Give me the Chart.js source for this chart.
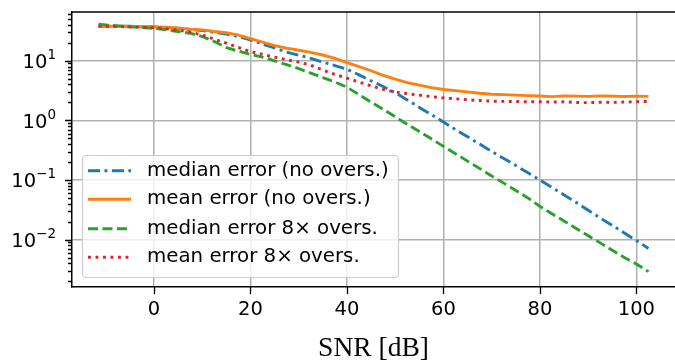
<!DOCTYPE html>
<html>
<head>
<meta charset="utf-8">
<script src="https://cdn.jsdelivr.net/npm/chart.js@4/dist/chart.umd.min.js"></script>
<style>
  html, body { margin: 0; padding: 0; background: #fff; }
  #wrap { width: 675px; height: 360px; }
</style>
</head>
<body>
<div id="wrap"><canvas id="errChart" width="675" height="360"></canvas></div>
<script>
// SNR values (dB)
const snr = [-11.5, -10, -7.5, -5, -2.5, 0, 2.5, 5, 7.5, 10, 12.5, 15, 17.5, 20, 22.5, 25, 27.5, 30, 32.5, 35,
  37.5, 40, 42.5, 45, 47.5, 50, 52.5, 55, 57.5, 60, 62.5, 65, 67.5, 70, 72.5, 75, 77.5, 80, 82.5, 85,
  87.5, 90, 92.5, 95, 97.5, 100, 102.5];

const medianNoOvers = [38, 38, 38, 38, 37.5, 37, 36, 35, 33.5, 32, 30, 28, 25.5, 22.5, 19, 16.5, 14, 12.4, 11, 9.5,
  8.3, 7.2, 5.8, 4.6, 3.7, 2.9, 2.2, 1.65, 1.25, 0.94, 0.7, 0.53, 0.4, 0.3, 0.23, 0.175, 0.132, 0.1, 0.075, 0.056,
  0.042, 0.031, 0.023, 0.0173, 0.0129, 0.0096, 0.0071];

const meanNoOvers = [38, 38, 38, 37.5, 37.5, 37, 36.5, 35.5, 34, 33, 31, 29.5, 27, 23.5, 20.5, 18, 16.3, 15, 13.8, 12.5,
  11, 9.3, 8, 6.8, 5.7, 4.9, 4.3, 3.9, 3.55, 3.3, 3.15, 3.0, 2.85, 2.75, 2.7, 2.65, 2.6, 2.56, 2.5, 2.58,
  2.55, 2.53, 2.58, 2.55, 2.52, 2.55, 2.53];

const median8x = [41, 40, 38.5, 37, 36, 35, 33, 31, 29, 25.5, 21, 16.6, 14.5, 12.8, 11.5, 10, 8.6, 7.4, 6.2, 5.2,
  4.4, 3.6, 2.7, 2.03, 1.53, 1.15, 0.86, 0.65, 0.49, 0.366, 0.275, 0.207, 0.156, 0.117, 0.0885, 0.0667, 0.05, 0.036, 0.027, 0.0205,
  0.0154, 0.0116, 0.0088, 0.0066, 0.005, 0.0039, 0.0029];

const mean8x = [38, 38, 37.5, 37, 36.5, 36, 34.5, 32.5, 30.5, 27, 23, 19.7, 16.8, 14.2, 12.8, 11.5, 10.4, 9.5, 8.4, 7.0,
  5.9, 5.1, 4.4, 3.8, 3.3, 3.0, 2.8, 2.65, 2.5, 2.38, 2.3, 2.22, 2.15, 2.1, 2.08, 2.07, 2.05, 2.05, 2.03, 2.05,
  2.0, 1.98, 2.02, 2.0, 2.03, 2.05, 2.08];

const seriesLabels = ['median error (no overs.)', 'mean error (no overs.)', 'median error 8\u00d7 overs.', 'mean error 8\u00d7 overs.'];
const xTicks = [0, 20, 40, 60, 80, 100];
const yTicks = [0.01, 0.1, 1, 10];
const yExponents = ['\u22122', '\u22121', '0', '1'];

const tickFont = { family: 'DejaVu Sans', size: 19.5 };

function pts(vals) {
  return snr.map((s, i) => ({ x: s, y: vals[i] }));
}

// spines, tick marks, mathtext-like y labels, legend box
const decorations = {
  id: 'decorations',
  afterDraw(chart) {
    const ctx = chart.ctx;
    const a = chart.chartArea;
    const x = chart.scales.x;
    const y = chart.scales.y;
    ctx.save();
    ctx.strokeStyle = '#000';
    ctx.lineWidth = 1.5;
    ctx.beginPath();
    ctx.moveTo(a.left - 0.75, a.top);
    ctx.lineTo(a.right, a.top);
    ctx.stroke();

    ctx.lineWidth = 1.3;
    ctx.beginPath();
    xTicks.forEach(v => {
      const px = Math.round(x.getPixelForValue(v)) + 0.5;
      ctx.moveTo(px, a.bottom);
      ctx.lineTo(px, a.bottom + 7);
    });
    for (let d = -3; d <= 1; d++) {
      for (let m = 1; m <= 9; m++) {
        const v = m * Math.pow(10, d);
        if (v < y.min || v > y.max) continue;
        const py = Math.round(y.getPixelForValue(v)) + 0.5;
        const len = m === 1 ? 7 : 4;
        ctx.moveTo(a.left, py);
        ctx.lineTo(a.left - len, py);
      }
    }
    ctx.stroke();

    // y tick labels: 10 with raised exponent
    ctx.fillStyle = '#000';
    ctx.textBaseline = 'alphabetic';
    ctx.textAlign = 'left';
    yTicks.forEach((v, i) => {
      const py = y.getPixelForValue(v);
      ctx.font = '19.5px "DejaVu Sans"';
      const wBase = ctx.measureText('10').width;
      ctx.font = '13.5px "DejaVu Sans"';
      const wExp = ctx.measureText(yExponents[i]).width;
      const left = 56 - wBase - wExp;
      ctx.font = '19.5px "DejaVu Sans"';
      ctx.fillText('10', left, py + 7.5);
      ctx.font = '13.5px "DejaVu Sans"';
      ctx.fillText(yExponents[i], left + wBase, py - 1.5);
    });

    // legend
    const lx = 82, ly = 155, lw = 316, lh = 122;
    ctx.beginPath();
    ctx.roundRect(lx + 0.5, ly + 0.5, lw, lh, 4);
    ctx.fillStyle = 'rgba(255,255,255,0.8)';
    ctx.fill();
    ctx.strokeStyle = '#cccccc';
    ctx.lineWidth = 1.2;
    ctx.stroke();
    const rows = [170.7, 199.3, 228.7, 257.3];
    chart.data.datasets.forEach((ds, i) => {
      const ry = rows[i];
      ctx.beginPath();
      ctx.setLineDash(ds.borderDash || []);
      ctx.strokeStyle = ds.borderColor;
      ctx.lineWidth = ds.borderWidth;
      ctx.lineCap = 'butt';
      ctx.moveTo(88, ry);
      ctx.lineTo(131, ry);
      ctx.stroke();
      ctx.setLineDash([]);
      ctx.fillStyle = '#000';
      ctx.font = '19.8px "DejaVu Sans"';
      ctx.textBaseline = 'middle';
      ctx.fillText(ds.label, 147, ry);
    });
    ctx.restore();
  }
};

new Chart(document.getElementById('errChart').getContext('2d'), {
  type: 'line',
  data: {
    datasets: [
      { label: seriesLabels[0], data: pts(medianNoOvers), borderColor: '#1f77b4', borderWidth: 2.9, borderDash: [12, 4.5, 2.9, 4.5], order: 4 },
      { label: seriesLabels[1], data: pts(meanNoOvers), borderColor: '#ff7f0e', borderWidth: 2.9, order: 3 },
      { label: seriesLabels[2], data: pts(median8x), borderColor: '#2ca02c', borderWidth: 2.9, borderDash: [10, 4.5], order: 2 },
      { label: seriesLabels[3], data: pts(mean8x), borderColor: '#d62728', borderWidth: 2.9, borderDash: [2.9, 4.6], order: 1 }
    ]
  },
  options: {
    responsive: false,
    animation: false,
    devicePixelRatio: 1,
    elements: { point: { radius: 0 }, line: { tension: 0, fill: false } },
    layout: { padding: { top: 12, right: 0, left: 0, bottom: 0 } },
    plugins: { legend: { display: false }, tooltip: { enabled: false } },
    scales: {
      x: {
        type: 'linear',
        min: -17,
        max: 108,
        afterBuildTicks: s => { s.ticks = xTicks.map(v => ({ value: v })); },
        afterFit: s => { s.height = 73; },
        grid: { color: '#b0b0b0', lineWidth: 1.5, drawTicks: false },
        border: { color: '#000', width: 1.5 },
        ticks: { font: tickFont, color: '#000', padding: 11, maxRotation: 0, autoSkip: false },
        title: { display: true, text: 'SNR [dB]', color: '#000', font: { family: 'Liberation Serif', size: 27.5 }, padding: { top: 0, bottom: -5 } }
      },
      y: {
        type: 'logarithmic',
        min: 0.0016,
        max: 65.8,
        afterBuildTicks: s => { s.ticks = yTicks.map(v => ({ value: v })); },
        afterFit: s => { s.width = 72; },
        grid: { color: '#b0b0b0', lineWidth: 1.5, drawTicks: false },
        border: { color: '#000', width: 1.5 },
        ticks: { display: false }
      }
    }
  },
  plugins: [decorations]
});
</script>
</body>
</html>
